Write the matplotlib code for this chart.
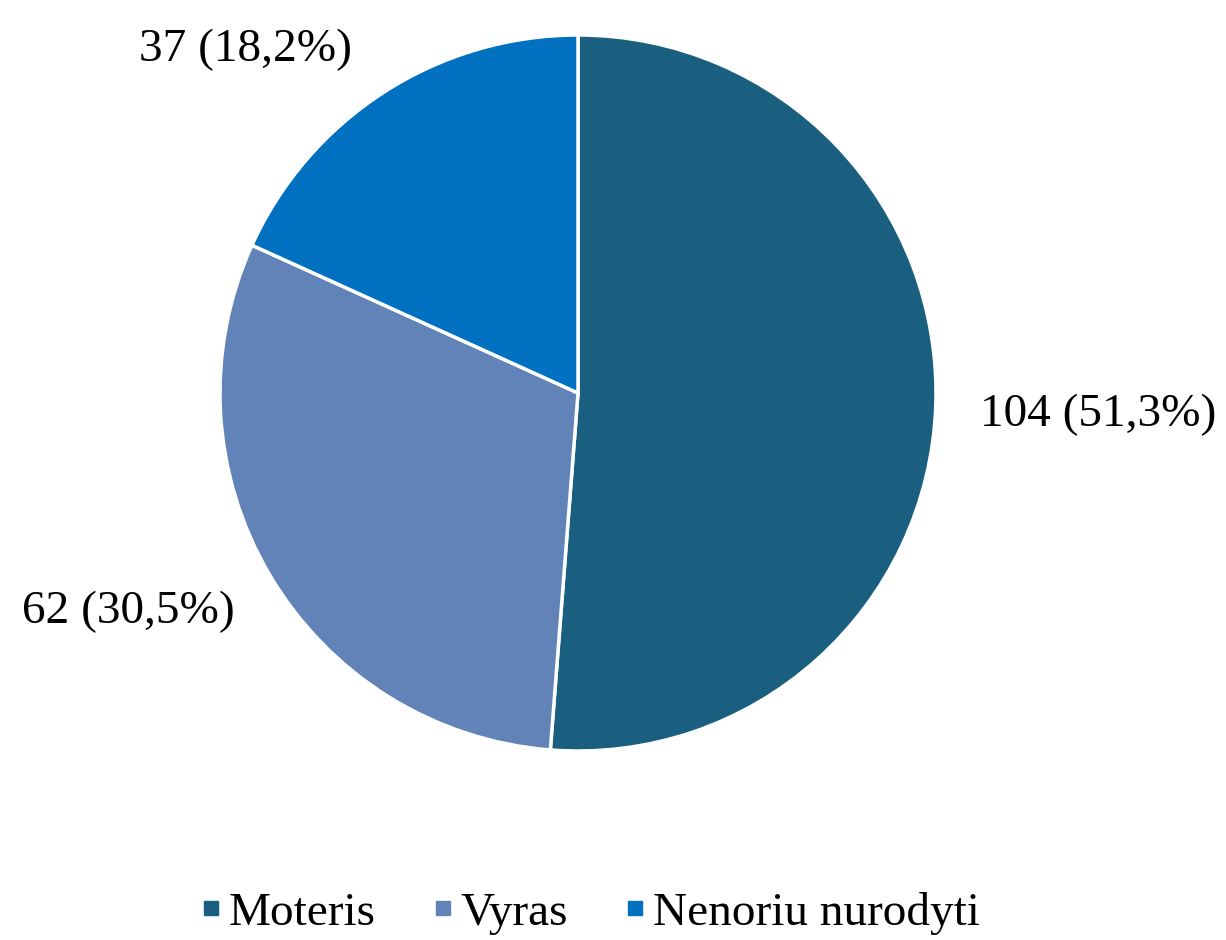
import matplotlib.pyplot as plt
from matplotlib.lines import Line2D

plt.rcParams['font.family'] = ['Liberation Serif', 'DejaVu Serif']

# data
categories = ['Moteris', 'Vyras', 'Nenoriu nurodyti']
counts = [104, 62, 37]
percent_labels = ['51,3%', '30,5%', '18,2%']
colors = ['#1a5f80', '#6283b8', '#0070c0']

W, H = 1226, 940
fig = plt.figure(figsize=(W / 100, H / 100), dpi=100)

# pie centre and radius in pixels
cx, cy, r = 578, 393, 358
ax = fig.add_axes([(cx - r) / W, (H - cy - r) / H, 2 * r / W, 2 * r / H])
ax.pie(counts, colors=colors, startangle=90, counterclock=False,
       wedgeprops=dict(edgecolor='white', linewidth=2.5))
ax.set_xlim(-1, 1)
ax.set_ylim(-1, 1)
ax.set_aspect('equal')

# data label positions (relative to pie, in radius units)
label_pos = [(1.453, -0.06), (-1.257, -0.612), (-0.93, 0.96)]
for (x, y), n, p in zip(label_pos, counts, percent_labels):
    ax.text(x, y, f'{n} ({p})', ha='center', va='center', fontsize=34,
            color='black', clip_on=False)

handles = [Line2D([], [], marker='s', linestyle='none', markersize=10,
                  markerfacecolor=c, markeredgecolor=c) for c in colors]
fig.legend(handles, categories, loc='center', ncol=3,
           bbox_to_anchor=(590 / W, 1 - 913 / H), frameon=False,
           fontsize=34, handlelength=0.45, handletextpad=0.15,
           columnspacing=1.2)

fig.savefig('out.png', dpi=100)
